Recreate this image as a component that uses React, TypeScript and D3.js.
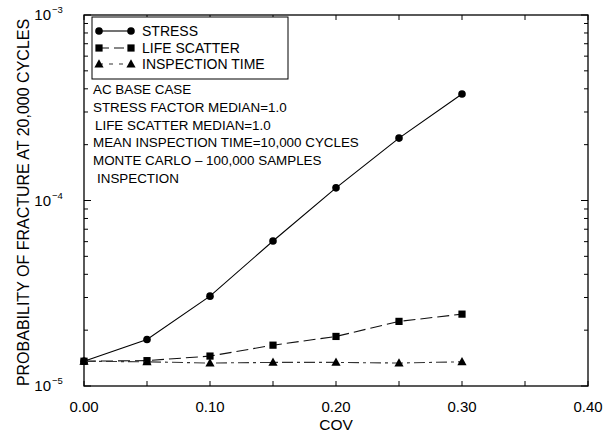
import React from "react";
import * as d3 from "d3";

const covValues = [0, 0.05, 0.1, 0.15, 0.2, 0.25, 0.3];
const stressValues = [1.36e-5, 1.78e-5, 3.05e-5, 6.05e-5, 1.17e-4, 2.17e-4, 3.75e-4];
const lifeScatterValues = [1.36e-5, 1.37e-5, 1.45e-5, 1.66e-5, 1.85e-5, 2.23e-5, 2.44e-5];
const inspectionValues = [1.36e-5, 1.35e-5, 1.33e-5, 1.34e-5, 1.34e-5, 1.33e-5, 1.35e-5];
const xTickLabels = ["0.00", "0.10", "0.20", "0.30", "0.40"];
const yDecades = [-5, -4, -3];
const legendLabels = ["STRESS", "LIFE SCATTER", "INSPECTION TIME"];
const annotationLines = [
  "AC BASE CASE",
  "STRESS FACTOR MEDIAN=1.0",
  "LIFE SCATTER MEDIAN=1.0",
  "MEAN INSPECTION TIME=10,000 CYCLES",
  "MONTE CARLO \u2013 100,000 SAMPLES",
  "INSPECTION",
];
const annotationX = [93, 93, 95, 93, 93, 97];

const W = 615;
const H = 435;
const L = 84;
const R = 588;
const T = 15;
const B = 386;
const FONT = "Liberation Sans, Arial, Helvetica, sans-serif";

export default function App() {
  const x = d3.scaleLinear().domain([0, 0.4]).range([L, R]);
  const y = d3.scaleLog().domain([1e-5, 1e-3]).range([B, T]);

  const line = d3
    .line<number>()
    .x((_, i) => x(covValues[i]))
    .y((d) => y(d));

  const minorY: number[] = [];
  for (let e = -5; e < -3; e++) {
    for (let m = 2; m <= 9; m++) minorY.push(m * Math.pow(10, e));
  }
  const xTicks = d3.range(0, 0.4001, 0.05);

  const circle = (cx: number, cy: number, k: string) => (
    <circle key={k} cx={cx} cy={cy} r={3.8} fill="#000" />
  );
  const square = (cx: number, cy: number, k: string) => (
    <rect key={k} x={cx - 3.6} y={cy - 3.6} width={7.2} height={7.2} fill="#000" />
  );
  const tri = (cx: number, cy: number, k: string) => (
    <path
      key={k}
      d={`M${cx},${cy - 4.8} L${cx + 4.6},${cy + 3.4} L${cx - 4.6},${cy + 3.4} Z`}
      fill="#000"
    />
  );

  const series = [
    { vals: stressValues, dash: "none", marker: circle, color: "#000" },
    { vals: lifeScatterValues, dash: "12,5", marker: square, color: "#111" },
    { vals: inspectionValues, dash: "11,4,3,4", marker: tri, color: "#333" },
  ];

  const legendY = [31, 48, 64];

  return (
    <svg
      width={W}
      height={H}
      style={{ position: "absolute", left: 0, top: 0, background: "#fff" }}
      fontFamily={FONT}
    >
      <rect x={L} y={T} width={R - L} height={B - T} fill="none" stroke="#000" strokeWidth={1.3} />

      {xTicks.map((t, i) => (
        <g key={"xt" + i}>
          <line x1={x(t)} x2={x(t)} y1={B} y2={B - 5} stroke="#000" strokeWidth={1} />
          <line x1={x(t)} x2={x(t)} y1={T} y2={T + 5} stroke="#000" strokeWidth={1} />
        </g>
      ))}
      {xTickLabels.map((lab, i) => (
        <text key={"xl" + i} x={x(i * 0.1)} y={411.5} fontSize={15} textAnchor="middle" fill="#000">
          {lab}
        </text>
      ))}
      <text x={x(0.2)} y={430} fontSize={15.5} textAnchor="middle" fill="#000">
        COV
      </text>

      {yDecades.map((e) => (
        <g key={"yd" + e}>
          <line x1={L} x2={L + 7} y1={y(Math.pow(10, e))} y2={y(Math.pow(10, e))} stroke="#000" />
          <line x1={R} x2={R - 7} y1={y(Math.pow(10, e))} y2={y(Math.pow(10, e))} stroke="#000" />
          <text x={51} y={y(Math.pow(10, e)) + 5} fontSize={15} textAnchor="end" fill="#000">
            10
          </text>
          <text x={52} y={y(Math.pow(10, e)) - 2} fontSize={9.5} textAnchor="start" fill="#000">
            {"\u2212" + (-e)}
          </text>
        </g>
      ))}
      {minorY.map((v, i) => (
        <g key={"ym" + i}>
          <line x1={L} x2={L + 4} y1={y(v)} y2={y(v)} stroke="#000" />
          <line x1={R} x2={R - 4} y1={y(v)} y2={y(v)} stroke="#000" />
        </g>
      ))}
      <text
        transform={`translate(29,${(T + B) / 2 + 2}) rotate(-90)`}
        fontSize={16}
        textAnchor="middle"
        fill="#000"
      >
        PROBABILITY OF FRACTURE AT 20,000 CYCLES
      </text>

      {series.map((s, si) => (
        <g key={"s" + si}>
          <path
            d={line(s.vals) || ""}
            fill="none"
            stroke={s.color}
            strokeWidth={1.1}
            strokeDasharray={s.dash}
          />
          {s.vals.map((v, i) => s.marker(x(covValues[i]), y(v), "m" + si + "_" + i))}
        </g>
      ))}

      <rect x={92} y={17} width={196} height={62} fill="#fff" stroke="#000" strokeWidth={1} />
      {series.map((s, si) => (
        <g key={"lg" + si}>
          <line
            x1={99}
            x2={131}
            y1={legendY[si]}
            y2={legendY[si]}
            stroke={s.color}
            strokeWidth={1.1}
            strokeDasharray={si === 0 ? "none" : si === 1 ? "10,5" : "4,6"}
          />
          {s.marker(99, legendY[si], "lm1" + si)}
          {s.marker(131, legendY[si], "lm2" + si)}
          <text x={142} y={legendY[si] + 5} fontSize={14} fill="#000">
            {legendLabels[si]}
          </text>
        </g>
      ))}

      {annotationLines.map((t, i) => (
        <text key={"an" + i} x={annotationX[i]} y={94 + i * 17.8} fontSize={13.4} fill="#000">
          {t}
        </text>
      ))}
    </svg>
  );
}
